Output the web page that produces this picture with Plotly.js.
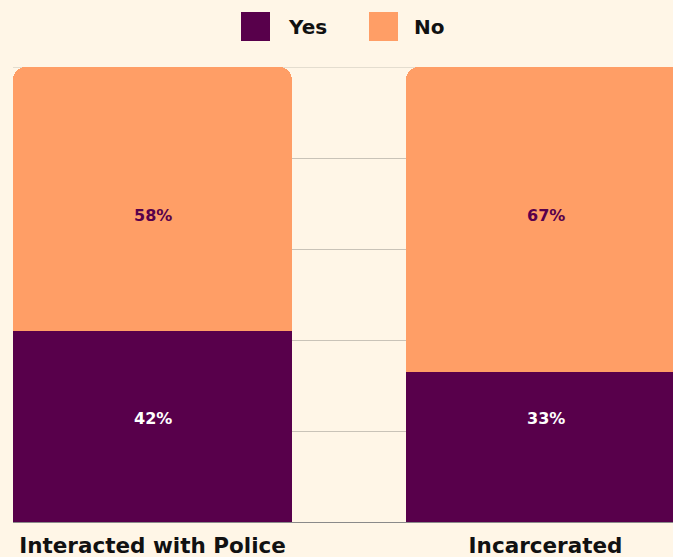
<!DOCTYPE html>
<html>
<head>
<meta charset="utf-8">
<script src="https://cdn.plot.ly/plotly-3.0.1.min.js"></script>
<style>
html,body{margin:0;padding:0;background:#fff6e7;}
#chart{width:673px;height:557px;}
</style>
</head>
<body>
<div id="chart"></div>
<script>
// Data
const categories = ["Interacted with Police", "Incarcerated"];
const yesValues = [42, 33];
const noValues = [58, 67];
const seriesNames = ["Yes", "No"];
const yesColor = "#58004b";
const noColor = "#ff9e66";
const bg = "#fff6e7";
const FONT = "DejaVu Sans, sans-serif";

const traces = [
  {type: "bar", name: seriesNames[0], x: categories, y: yesValues, marker: {color: yesColor}, hoverinfo: "none"},
  {type: "bar", name: seriesNames[1], x: categories, y: noValues, marker: {color: noColor}, hoverinfo: "none"}
];

// label annotations (fixed vertical positions as in reference)
const annotations = [];
categories.forEach((c, i) => {
  annotations.push({x: c, y: 22.8, xref: "x", yref: "y", text: "<b>" + yesValues[i] + "%</b>", showarrow: false,
    font: {family: FONT, size: 16, color: "#ffffff"}});
  annotations.push({x: c, y: 67.4, xref: "x", yref: "y", text: "<b>" + noValues[i] + "%</b>", showarrow: false,
    font: {family: FONT, size: 16, color: yesColor}});
});

// manual legend (paper coords) : plot area x 13..673 (660px), y 67..522 (455px)
const px = v => (v - 13) / 660;
const py = v => (522 - v) / 455;
const shapes = [
  {type: "line", xref: "paper", yref: "y", x0: 0, x1: 1, y0: 100, y1: 100, line: {color: "#c9c3b8", width: 1}, layer: "below"},
  {type: "rect", xref: "paper", yref: "paper", x0: px(241), x1: px(270), y0: py(41), y1: py(12), fillcolor: yesColor, line: {width: 0}},
  {type: "rect", xref: "paper", yref: "paper", x0: px(369), x1: px(398), y0: py(41), y1: py(12), fillcolor: noColor, line: {width: 0}}
];
annotations.push({xref: "paper", yref: "paper", x: px(286), y: py(27), xanchor: "left", yanchor: "middle", text: "<b>" + seriesNames[0] + "</b>", showarrow: false, font: {family: FONT, size: 20, color: "#111111"}});
annotations.push({xref: "paper", yref: "paper", x: px(412), y: py(27), xanchor: "left", yanchor: "middle", text: "<b>" + seriesNames[1] + "</b>", showarrow: false, font: {family: FONT, size: 20, color: "#111111"}});

const layout = {
  width: 673, height: 557,
  paper_bgcolor: bg, plot_bgcolor: bg,
  margin: {l: 13, r: 0, t: 67, b: 35, pad: 0},
  barmode: "stack",
  bargap: 0.29,
  barcornerradius: 13,
  showlegend: false,
  xaxis: {
    range: [-0.355, 1.3244],
    showgrid: false, zeroline: false,
    showline: true, linecolor: "#8a8a8a", linewidth: 1,
    ticks: "", ticklen: 0,
    ticklabelstandoff: 4,
    tickfont: {family: FONT, size: 21.5, color: "#111111", weight: "bold"},
    automargin: false
  },
  yaxis: {
    range: [0, 100], dtick: 20,
    showgrid: true, gridcolor: "#c9c3b8", gridwidth: 1,
    zeroline: false, showticklabels: false, ticks: "",
    automargin: false
  },
  shapes: shapes,
  annotations: annotations,
  font: {family: FONT}
};

Plotly.newPlot("chart", traces, layout, {displayModeBar: false, staticPlot: true});
</script>
</body>
</html>
